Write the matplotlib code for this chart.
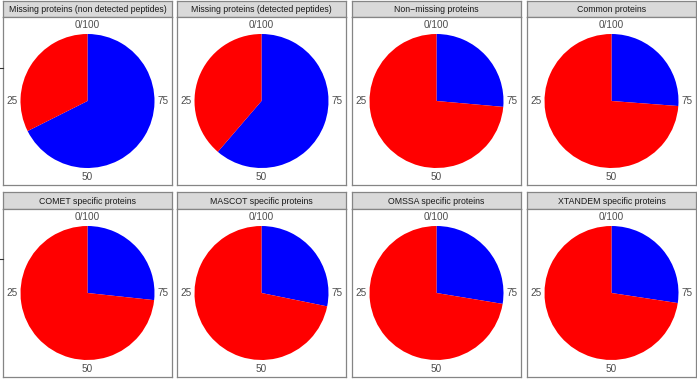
import matplotlib
matplotlib.use("Agg")
import matplotlib.pyplot as plt
from matplotlib.lines import Line2D

plt.rcParams['font.family'] = ['Liberation Sans', 'DejaVu Sans']

titles = [
    "Missing proteins (non detected peptides)",
    "Missing proteins (detected peptides)",
    "Non\u2212missing proteins",
    "Common proteins",
    "COMET specific proteins",
    "MASCOT specific proteins",
    "OMSSA specific proteins",
    "XTANDEM specific proteins",
]
blue_pct = [67.6, 61.3, 26.4, 26.2, 26.7, 28.2, 27.6, 27.4]
red_pct = [32.4, 38.7, 73.6, 73.8, 73.3, 71.8, 72.4, 72.6]
tick_labels = ["0/100", "25", "50", "75"]
colors = ["#0000FF", "#FF0000"]

W, H = 697, 379
fig = plt.figure(figsize=(W / 100, H / 100), dpi=100)

col_left = [3, 177, 352, 527]
pw = 169
rows = [(1, 17, 185), (192, 209, 377)]  # strip top, strip bottom, panel bottom
border = "#858585"

def fx(px):
    return px / W

def fy(py):
    return 1 - py / H

for i, title in enumerate(titles):
    r, c = divmod(i, 4)
    st, sb, pb = rows[r]
    x0 = col_left[c]
    # strip
    sax = fig.add_axes([fx(x0), fy(sb), pw / W, (sb - st) / H])
    sax.set_xlim(0, 1); sax.set_ylim(0, 1)
    sax.set_xticks([]); sax.set_yticks([])
    sax.set_facecolor("#D9D9D9")
    for s in sax.spines.values():
        s.set_color(border); s.set_linewidth(0.9)
    sax.text(0.5, 0.47, title, ha="center", va="center", fontsize=6.3, color="#1A1A1A")
    # panel
    ph = pb - sb
    ax = fig.add_axes([fx(x0), fy(pb), pw / W, ph / H])
    R = 67.0
    ax.pie([blue_pct[i], red_pct[i]], colors=colors, startangle=90, counterclock=False,
           radius=1.0, center=(0, 0), frame=True, wedgeprops=dict(linewidth=0))
    ax.set_aspect("auto")
    ax.set_xlim(-pw / 2 / R, pw / 2 / R)
    ax.set_ylim(-ph / 2 / R, ph / 2 / R)
    ax.set_xticks([]); ax.set_yticks([])
    for s in ax.spines.values():
        s.set_color(border); s.set_linewidth(0.9)
    d = 1.13
    lab_kw = dict(fontsize=7.2, color="#4D4D4D", ha="center", va="center")
    ax.text(0, d, tick_labels[0], **lab_kw)
    ax.text(-d, 0, tick_labels[1], **lab_kw)
    ax.text(0, -d, tick_labels[2], **lab_kw)
    ax.text(d, 0, tick_labels[3], **lab_kw)

# small radial-axis tick marks at the left edge
for ty in (68, 259):
    fig.add_artist(Line2D([0, fx(3)], [fy(ty), fy(ty)], color="#333333", linewidth=0.8))

fig.savefig("out.png", dpi=100)
